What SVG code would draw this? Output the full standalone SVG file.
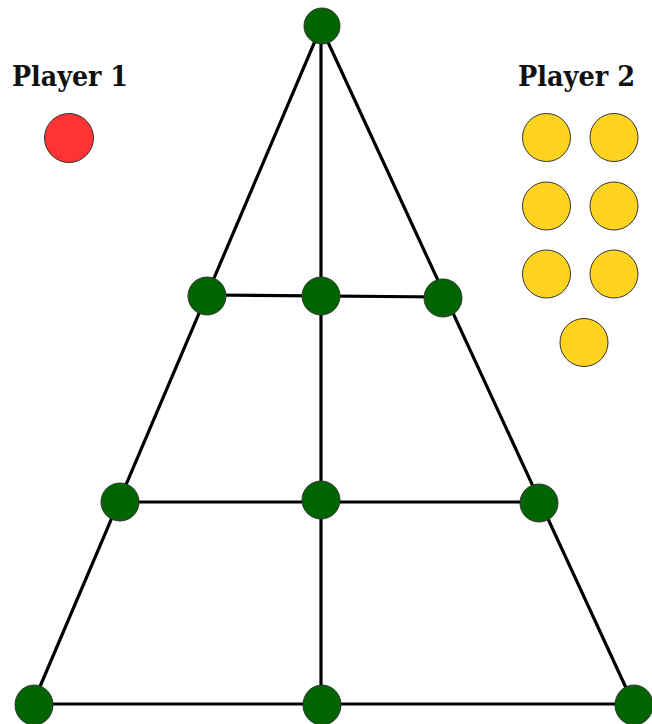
<svg xmlns="http://www.w3.org/2000/svg" width="652" height="724" viewBox="0 0 652 724">
<style>
.edge{stroke:#000;stroke-width:3.2;fill:none;stroke-linecap:round}
.node{fill:#006400;stroke:#333;stroke-width:1}
.red{fill:#ff3333;stroke:#333;stroke-width:1}
.yel{fill:#ffd320;stroke:#333;stroke-width:1}
.lbl{font-family:"DejaVu Serif",serif;font-weight:bold;font-size:27px;fill:#111}
</style>
<rect width="652" height="724" fill="#fff"/>
<g id="connectors">
<line class="edge" x1="321" y1="27" x2="33" y2="703"/>
<line class="edge" x1="321" y1="27" x2="633" y2="703"/>
<line class="edge" x1="321" y1="27" x2="321" y2="703"/>
<line class="edge" x1="207" y1="295" x2="443" y2="297"/>
<line class="edge" x1="120" y1="502" x2="539" y2="502"/>
<line class="edge" x1="33" y1="704" x2="633" y2="704"/>
</g>
<g id="n-top"><circle class="node" cx="322" cy="26" r="18"/></g>
<g id="n-m1l"><circle class="node" cx="207" cy="296" r="19"/></g>
<g id="n-m1c"><circle class="node" cx="321" cy="296" r="19"/></g>
<g id="n-m1r"><circle class="node" cx="443" cy="298" r="19"/></g>
<g id="n-m2l"><circle class="node" cx="120" cy="502" r="19"/></g>
<g id="n-m2c"><circle class="node" cx="321" cy="500" r="19"/></g>
<g id="n-m2r"><circle class="node" cx="539" cy="503" r="19"/></g>
<g id="n-bl"><ellipse class="node" cx="34" cy="705" rx="19" ry="20"/></g>
<g id="n-bc"><ellipse class="node" cx="322" cy="705" rx="19" ry="20"/></g>
<g id="n-br"><ellipse class="node" cx="634" cy="705" rx="19" ry="20"/></g>
<g id="player1">
<text class="lbl" x="12" y="86" textLength="116" lengthAdjust="spacingAndGlyphs">Player 1</text>
<circle class="red" cx="69" cy="138" r="24.5"/>
</g>
<g id="player2">
<text class="lbl" x="518" y="86" textLength="117" lengthAdjust="spacingAndGlyphs">Player 2</text>
<circle class="yel" cx="546.5" cy="137.5" r="24"/>
<circle class="yel" cx="614" cy="137.5" r="24"/>
<circle class="yel" cx="546.5" cy="206" r="24"/>
<circle class="yel" cx="614" cy="206" r="24"/>
<circle class="yel" cx="546.5" cy="274" r="24"/>
<circle class="yel" cx="614" cy="274" r="24"/>
<circle class="yel" cx="584" cy="342.5" r="24"/>
</g>
</svg>
